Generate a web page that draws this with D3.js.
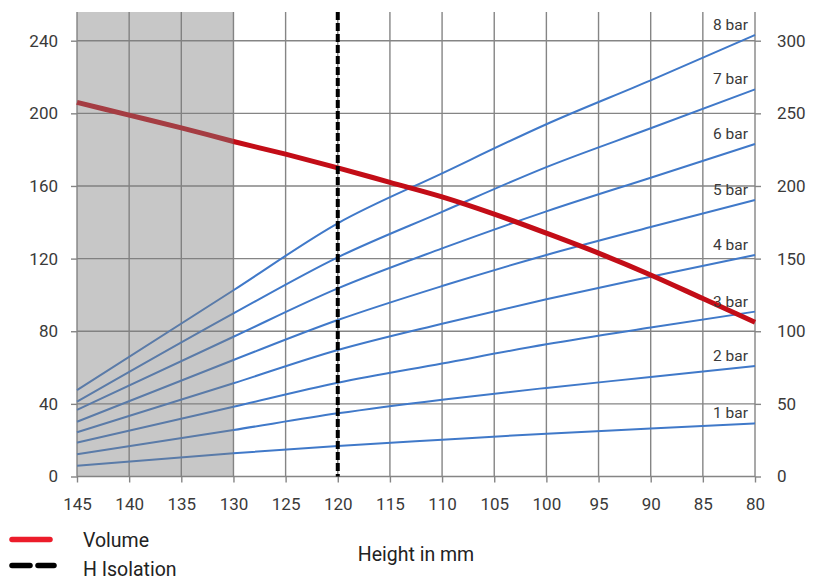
<!DOCTYPE html>
<html><head><meta charset="utf-8">
<script src="https://cdn.jsdelivr.net/npm/d3@7"></script>
<style>
html,body{margin:0;padding:0;background:#fff}
svg{display:block;font-family:Roboto,"Noto Sans",sans-serif}
</style>
</head><body>
<svg id="chart" width="822" height="579"></svg>
<script>
// ---- data ----
const heightTicks = [145,140,135,130,125,120,115,110,105,100,95,90,85,80];
const volumeHeights = [145,140,135,130,125,120,115,110,105,100,95,90,85,80];
const volume = [206,199,192,184.5,177.5,170,162,154,144.5,134,123,111,98,85];
const forceHeights = [145,130,120,110,100,90,80];
const pressureLabels = ["1 bar","2 bar","3 bar","4 bar","5 bar","6 bar","7 bar","8 bar"];
const force1 = [7.4,16.0,21.0,25.3,29.5,33.0,36.6];
const force2 = [15.3,32.0,43.5,52.9,61.0,68.5,76.1];
const force3 = [23.3,48.0,64.5,77.8,91.0,102.5,113.5];
const force4 = [30.4,64.2,87.1,105.2,122.0,137.5,152.5];
const force5 = [37.7,80.2,107.7,131.1,152.5,171.7,190.3];
const force6 = [45.8,96.2,129.5,157.0,182.5,205.7,228.9];
const force7 = [51.5,112.3,150.9,182.2,213.0,239.7,266.5];
const force8 = [59.5,128.2,174.3,208.7,242.5,272.7,303.9];
const forces = [force1,force2,force3,force4,force5,force6,force7,force8];
const leftTicks = [0,40,80,120,160,200,240];
const rightTicks = [0,50,100,150,200,250,300];
const isolationHeight = 120;
const shadedRange = [145,130];
const legendItems = ["Volume","H Isolation"];
const xTitle = "Height in mm";

// ---- layout ----
const svg = d3.select("#chart");
const L = 77, R = 755, B = 476.5, T = 12;
const x = d3.scaleLinear().domain([145,80]).range([L,R]);
const yL = d3.scaleLinear().domain([0,240]).range([B,40.7]);
const yR = d3.scaleLinear().domain([0,300]).range([B,40.7]);
const gridColor = "#858585";
const textColor = "#3a3a3a";

// grid
const grid = svg.append("g");
grid.selectAll("line.v").data(heightTicks).join("line")
  .attr("x1", d=>x(d)).attr("x2", d=>x(d)).attr("y1", T).attr("y2", B)
  .attr("stroke", gridColor).attr("stroke-width", 1.4);
grid.selectAll("line.h").data(leftTicks).join("line")
  .attr("x1", L).attr("x2", R).attr("y1", d=>yL(d)).attr("y2", d=>yL(d))
  .attr("stroke", gridColor).attr("stroke-width", 1.4);

// axes
function styleAxis(g){
  g.select(".domain").remove();
  g.selectAll(".tick line").attr("stroke", gridColor).attr("stroke-width", 1.4);
  g.selectAll(".tick text").attr("fill", textColor).style("font-size","17px").style("font-family","Roboto, sans-serif");
}
svg.append("g").attr("transform",`translate(${L},0)`)
  .call(d3.axisLeft(yL).tickValues(leftTicks).tickSize(6).tickPadding(13).tickFormat(d3.format("d")))
  .call(styleAxis);
svg.append("g").attr("transform",`translate(${R},0)`)
  .call(d3.axisRight(yR).tickValues(rightTicks).tickSize(6).tickPadding(16).tickFormat(d3.format("d")))
  .call(styleAxis);
svg.append("g").attr("transform",`translate(0,${B})`)
  .call(d3.axisBottom(x).tickValues(heightTicks).tickSize(6).tickPadding(15).tickFormat(d3.format("d")))
  .call(styleAxis);

// force lines
const forceLine = d3.line().x((d,i)=>x(forceHeights[i])).y(d=>yR(d)).curve(d3.curveMonotoneX);
svg.append("g").selectAll("path").data(forces).join("path")
  .attr("d", forceLine).attr("fill","none").attr("stroke","#4079c9").attr("stroke-width",2);

// volume line
const volLine = d3.line().x((d,i)=>x(volumeHeights[i])).y(d=>yL(d)).curve(d3.curveMonotoneX);
svg.append("path").datum(volume).attr("d", volLine)
  .attr("fill","none").attr("stroke","#c30d17").attr("stroke-width",5);

// shaded region overlay
svg.append("rect")
  .attr("x", x(shadedRange[0])).attr("width", x(shadedRange[1]) - x(shadedRange[0]))
  .attr("y", T).attr("height", B - T)
  .attr("fill", "#7d7d7d").attr("opacity", 0.43);

// isolation dashed line
svg.append("line")
  .attr("x1", x(isolationHeight)).attr("x2", x(isolationHeight))
  .attr("y1", T).attr("y2", B)
  .attr("stroke","#000").attr("stroke-width",4).attr("stroke-dasharray","8,3");

// pressure labels
svg.append("g").selectAll("text").data(forces).join("text")
  .attr("x", 748).attr("y", d=>yR(d[d.length-1]) - 5)
  .attr("text-anchor","end").attr("fill", textColor)
  .style("font-size","15.5px")
  .text((d,i)=>pressureLabels[i]);

// legend
const lg = svg.append("g");
lg.append("line").attr("x1",12).attr("x2",50).attr("y1",539.5).attr("y2",539.5)
  .attr("stroke","#ec1c2a").attr("stroke-width",5.5).attr("stroke-linecap","round");
lg.append("line").attr("x1",12).attr("x2",30).attr("y1",565.5).attr("y2",565.5)
  .attr("stroke","#000").attr("stroke-width",5.5).attr("stroke-linecap","round");
lg.append("line").attr("x1",38).attr("x2",54).attr("y1",565.5).attr("y2",565.5)
  .attr("stroke","#000").attr("stroke-width",5.5).attr("stroke-linecap","round");
lg.selectAll("text").data(legendItems).join("text")
  .attr("x",83).attr("y",(d,i)=>547 + i*28.5)
  .attr("fill","#222").style("font-size","19.5px").text(d=>d);

// x title
svg.append("text").attr("x",(L+R)/2).attr("y",561).attr("text-anchor","middle")
  .attr("fill","#222").style("font-size","19.5px").text(xTitle);
</script>
</body></html>
